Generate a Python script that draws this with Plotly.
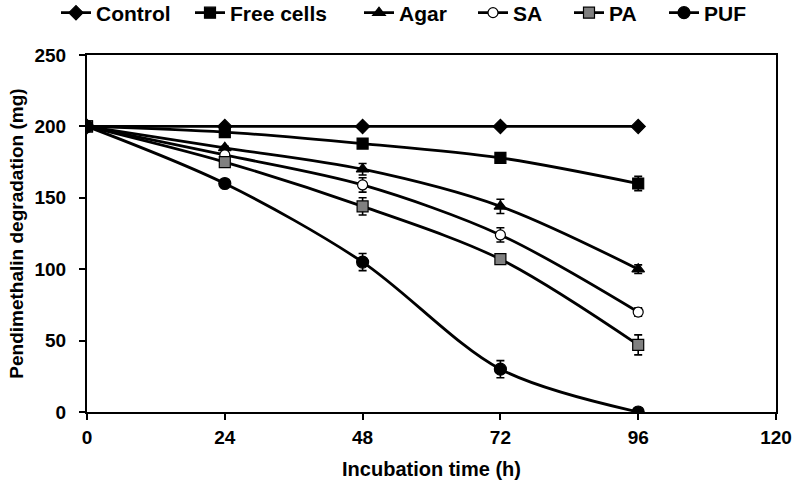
import plotly.graph_objects as go

hours = [0, 24, 48, 72, 96]
series_names = ["Control", "Free cells", "Agar", "SA", "PA", "PUF"]
control = [200, 200, 200, 200, 200]
free_cells = [200, 196, 188, 178, 160]
agar = [200, 185, 170, 144, 100]
sa = [200, 180, 159, 124, 70]
pa = [200, 175, 144, 107, 47]
puf = [200, 160, 105, 30, 0]

err_control = [0, 0, 0, 0, 0]
err_free = [0, 1, 2, 2, 5]
err_agar = [0, 1, 4, 5, 3]
err_sa = [0, 1, 5, 5, 3]
err_pa = [0, 2, 6, 2, 7]
err_puf = [0, 1, 6, 6, 1]

values = [control, free_cells, agar, sa, pa, puf]
errors = [err_control, err_free, err_agar, err_sa, err_pa, err_puf]
symbols = ["diamond", "square", "triangle-up", "circle", "square", "circle"]
fills = ["black", "black", "black", "white", "#808080", "black"]
sizes = [11, 11, 11, 10, 11, 12]

FONT = "Liberation Sans, Arial, sans-serif"
L, R, T, B = 87, 17, 55, 74
W, H = 793, 486
PW, PH = W - L - R, H - T - B

# desired pixel start of each legend text
legend_text_px = [98, 232, 401, 515, 611, 706]

fig = go.Figure()
for i, (name, y, e, sym, fc, sz) in enumerate(zip(series_names, values, errors, symbols, fills, sizes)):
    lg = "legend" if i == 0 else f"legend{i+1}"
    fig.add_trace(go.Scatter(
        x=hours, y=y, name=name, mode="lines+markers", legend=lg,
        line=dict(color="black", width=2.8, shape="spline", smoothing=0.9),
        marker=dict(symbol=sym, size=sz, color=fc, line=dict(color="black", width=1.2)),
        error_y=dict(type="data", array=e, visible=True, color="black", thickness=1.6, width=4),
    ))

legend_y = 1 + (T - 13) / PH
legends = {}
for i, tx in enumerate(legend_text_px):
    key = "legend" if i == 0 else f"legend{i+1}"
    legends[key] = dict(
        orientation="h", xref="paper", yref="paper",
        x=(tx - 42 - L) / PW, xanchor="left",
        y=legend_y, yanchor="middle",
        font=dict(family=FONT, size=21, color="black", weight="bold"),
        bgcolor="rgba(0,0,0,0)", borderwidth=0,
    )

fig.update_layout(
    width=W, height=H,
    paper_bgcolor="white", plot_bgcolor="white",
    margin=dict(l=L, r=R, t=T, b=B, autoexpand=False),
    font=dict(family=FONT, size=19, color="black"),
    showlegend=True,
    xaxis=dict(range=[0, 120], tickvals=[0, 24, 48, 72, 96, 120],
               showline=True, linecolor="black", linewidth=2, mirror=True,
               ticks="outside", ticklen=6, tickwidth=2, tickcolor="black",
               showgrid=False, zeroline=False, ticklabelstandoff=1,
               tickfont=dict(family=FONT, size=19, color="black", weight="bold"),
               title=dict(text="Incubation time (h)", standoff=15,
                          font=dict(family=FONT, size=20, color="black", weight="bold"))),
    yaxis=dict(range=[0, 250], tickvals=[0, 50, 100, 150, 200, 250],
               showline=True, linecolor="black", linewidth=2, mirror=True,
               ticks="outside", ticklen=6, tickwidth=2, tickcolor="black",
               showgrid=False, zeroline=False, ticklabelstandoff=9,
               tickfont=dict(family=FONT, size=19, color="black", weight="bold"),
               title=dict(text="Pendimethalin degradation (mg)", standoff=6,
                          font=dict(family=FONT, size=19, color="black", weight="bold"))),
    **legends,
)

fig.write_html(
    "out.html",
    config={"displayModeBar": False},
    post_script="document.body.style.margin='0';document.documentElement.style.overflow='hidden';",
)
